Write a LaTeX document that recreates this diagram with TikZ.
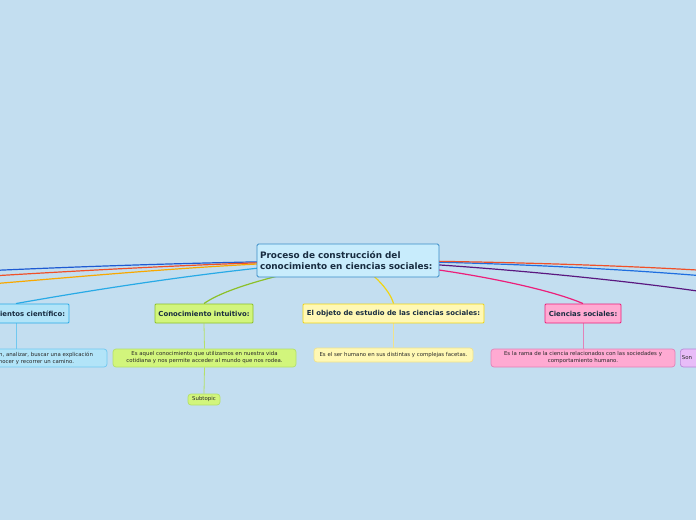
\documentclass[tikz,border=0pt]{standalone}
\usepackage{fontspec}
\setmainfont{DejaVu Sans}
\usetikzlibrary{backgrounds}

\definecolor{bgblue}{RGB}{195,222,240}
\definecolor{textdark}{RGB}{24,44,64}
\definecolor{notetext}{RGB}{40,40,40}
\definecolor{rootfill}{RGB}{200,236,252}
\definecolor{rootline}{RGB}{58,140,200}
\definecolor{cyanfill}{RGB}{178,228,248}
\definecolor{cyanline}{RGB}{40,170,230}
\definecolor{cyannote}{RGB}{112,200,240}
\definecolor{limefill}{RGB}{210,245,124}
\definecolor{limeline}{RGB}{140,192,40}
\definecolor{limenote}{RGB}{180,224,106}
\definecolor{yellfill}{RGB}{255,248,180}
\definecolor{yellline}{RGB}{240,212,20}
\definecolor{yellnote}{RGB}{240,226,140}
\definecolor{pinkfill}{RGB}{255,170,210}
\definecolor{pinkline}{RGB}{236,30,122}
\definecolor{pinknote}{RGB}{226,130,184}
\definecolor{purpfill}{RGB}{232,188,248}
\definecolor{purpnote}{RGB}{184,136,216}
\definecolor{purpline}{RGB}{90,24,128}
\definecolor{navyline}{RGB}{30,90,210}
\definecolor{redline}{RGB}{240,80,40}
\definecolor{orangeline}{RGB}{248,168,0}
\definecolor{blueline}{RGB}{30,110,224}

\begin{document}
\begin{tikzpicture}[x=1pt,y=-1pt,
    root/.style={draw=rootline,fill=rootfill,rounded corners=1.5pt,line width=0.8pt,
      font=\bfseries\fontsize{8.9}{11}\selectfont,text=textdark,align=left,
      text width=176pt,minimum height=33pt,inner xsep=3pt},
    topic/.style={rounded corners=1pt,line width=0.9pt,minimum height=19pt,
      font=\bfseries\fontsize{6.9}{8}\selectfont,text=textdark,inner xsep=1.5pt},
    note/.style={rounded corners=3pt,line width=0.7pt,align=center,
      font=\fontsize{5.4}{7}\selectfont,text=notetext,inner xsep=1.5pt,inner ysep=1pt},
    branch/.style={line width=1.2pt},
    stem/.style={line width=0.8pt}]
    \useasboundingbox (0,0) rectangle (696,520);

    % Central topic
    \node[root] (root) at (348,260.5) {Proceso de construcción del\\conocimiento en ciencias sociales:};

    % Main topics
    \node[topic,draw=cyanline,fill=cyanfill,minimum width=106pt] (cient) at (16,313.5) {Conocimientos científico:};
    \node[topic,draw=limeline,fill=limefill,minimum width=98pt] (intuit) at (204,313.5) {Conocimiento intuitivo:};
    \node[topic,draw=yellline,fill=yellfill,minimum width=181pt] (objeto) at (393.5,313.5) {El objeto de estudio de las ciencias sociales:};
    \node[topic,draw=pinkline,fill=pinkfill,minimum width=76pt] (ciencias) at (583,313.5) {Ciencias sociales:};

    % Notes
    \node[note,draw=cyannote,fill=cyanfill,minimum width=182pt,minimum height=18pt] (cientnote) at (16,358)
      {Parte de la observación, analizar, buscar una explicación\\que permite conocer y recorrer un camino.};
    \node[note,draw=limenote,fill=limefill,minimum width=183pt,minimum height=18pt] (intuitnote) at (204.5,358)
      {Es aquel conocimiento que utilizamos en nuestra vida\\cotidiana y nos permite acceder al mundo que nos rodea.};
    \node[note,draw=yellnote,fill=yellfill,minimum width=159pt,minimum height=14pt] (objetonote) at (393.5,355)
      {Es el ser humano en sus distintas y complejas facetas.};
    \node[note,draw=pinknote,fill=pinkfill,minimum width=184pt,minimum height=18pt] (cienciasnote) at (583,358)
      {Es la rama de la ciencia relacionados con las sociedades y\\comportamiento humano.};
    \node[note,draw=purpnote,fill=purpfill,anchor=west,text width=178pt,align=left,minimum height=18pt] (sonnote) at (680,358)
      {Son\\[0pt]};
    \node[note,draw=limenote,fill=limefill,minimum width=32pt,minimum height=11pt] (subtopic) at (204,399.5) {Subtopic};

    % Ends of branches outside the page
    \coordinate (navyend) at (-60,273);
    \coordinate (redend) at (-60,279);
    \coordinate (orangeend) at (-60,288);
    \coordinate (purpend) at (772,304);
    \coordinate (blueend) at (760,281);
    \coordinate (rightend) at (760,274);

    \begin{scope}[on background layer]
      \fill[bgblue] (0,0) rectangle (696,520);

      % Branches from the central topic
      \draw[branch,navyline] (root.center) .. controls (200,262) and (60,267) .. (navyend);
      \draw[branch,redline] (root.center) .. controls (200,263) and (60,272) .. (redend);
      \draw[branch,orangeline] (root.center) .. controls (200,264) and (60,279) .. (orangeend);
      \draw[branch,cyanline] (root.center) .. controls (250,266) and (120,285) .. (cient.north);
      \draw[branch,limeline] (root.center) .. controls (300,270) and (230,285) .. (intuit.north);
      \draw[branch,yellline] (root.center) .. controls (370,268) and (390,290) .. (objeto.north);
      \draw[branch,pinkline] (root.center) .. controls (430,265) and (540,285) .. (ciencias.north);
      \draw[branch,purpline] (root.center) .. controls (460,263) and (690,285) .. (purpend);
      \draw[branch,blueline] (root.center) .. controls (500,262) and (650,270) .. (blueend);
      \draw[branch,redline] (root.center) .. controls (500,261) and (650,266) .. (rightend);

      % Stems to the notes
      \draw[stem,cyannote] (cient.south) -- (cientnote.north);
      \draw[stem,limenote] (intuit.south) -- (intuitnote.north);
      \draw[stem,limenote] (intuitnote.south) -- (subtopic.north);
      \draw[stem,yellnote] (objeto.south) -- (objetonote.north);
      \draw[stem,pinknote] (ciencias.south) -- (cienciasnote.north);
    \end{scope}
\end{tikzpicture}
\end{document}
